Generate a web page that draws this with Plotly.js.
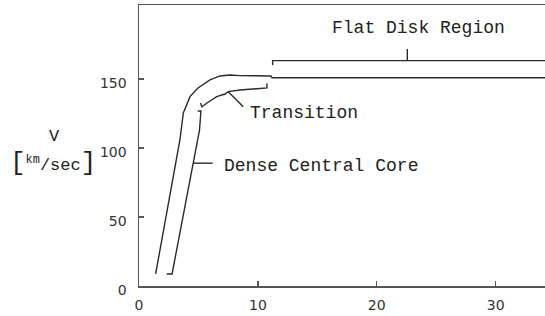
<!DOCTYPE html>
<html>
<head>
<meta charset="utf-8">
<script src="https://cdn.plot.ly/plotly-3.0.1.min.js"></script>
<style>html,body{margin:0;padding:0;background:#fff;}#chart{width:545px;height:316px;}</style>
</head>
<body>
<div id="chart"></div>
<script>
// Rotation curve (outer line)
const curveR = [1.40, 3.44, 3.73, 4.29, 4.96, 5.97, 6.81, 7.65, 8.49, 11.10, 11.19, 34.5];
const curveV = [8.7, 105.8, 125.4, 137.2, 143.5, 149.3, 152.2, 152.9, 152.4, 152.2, 150.9, 150.9];

// Dense central core bracket
const coreR = [2.33, 2.78, 5.09, 5.21, 4.94];
const coreV = [8.7, 8.7, 113.0, 126.8, 126.8];
const corePtrR = [4.57, 6.19];
const corePtrV = [89.0, 89.0];

// Transition bracket
const transR = [5.17, 5.30, 5.69, 6.53, 7.23, 7.51, 8.49, 10.76, 10.76];
const transV = [132.6, 129.9, 132.4, 137.2, 139.1, 140.8, 142.0, 143.5, 146.7];
const transPtrR = [7.51, 8.77];
const transPtrV = [140.8, 129.9];

// Flat disk bracket
const diskR = [11.24, 11.24, 34.5];
const diskV = [160.1, 163.3, 163.3];
const diskTickR = [22.57, 22.57];
const diskTickV = [163.3, 171.7];

// Labels
const labelText = ["Flat Disk Region", "Transition", "Dense Central Core"];
const labelR = [23.55, 9.17, 6.96];
const labelV = [187.2, 125.5, 86.6];
const labelAnchor = ["center", "left", "left"];

// Axis ticks
const xTicks = [0, 10, 20, 30];
const yTicks = [0, 50, 100, 150];

const lineStyle = {color: '#2a2a2a', width: 1.4};
function seg(x, y) {
  return {x: x, y: y, type: 'scatter', mode: 'lines', line: lineStyle, hoverinfo: 'skip', showlegend: false};
}

const data = [
  seg(curveR, curveV),
  seg(coreR, coreV),
  seg(corePtrR, corePtrV),
  seg(transR, transV),
  seg(transPtrR, transPtrV),
  seg(diskR, diskV),
  seg(diskTickR, diskTickV)
];

const textFont = {family: 'Liberation Mono, Courier New, monospace', size: 18, color: '#222'};
const annotations = labelText.map((t, i) => ({
  x: labelR[i], y: labelV[i], xref: 'x', yref: 'y', text: t, showarrow: false,
  xanchor: labelAnchor[i], yanchor: 'middle', font: textFont
}));
annotations.push({
  xref: 'paper', yref: 'paper', x: (54 - 139) / 406, y: (286 - 136) / 281,
  text: 'V', showarrow: false, xanchor: 'center', yanchor: 'middle',
  font: {family: 'Liberation Mono, monospace', size: 17, color: '#222'}
});
annotations.push({
  xref: 'paper', yref: 'paper', x: (53 - 139) / 406, y: (286 - 163) / 281,
  text: '<span style="font-size:26px">[</span><sup>km</sup>/sec<span style="font-size:26px">]</span>',
  showarrow: false, xanchor: 'center', yanchor: 'middle',
  font: {family: 'Liberation Mono, monospace', size: 17, color: '#222'}
});

const tickFont = {family: 'DejaVu Sans, sans-serif', size: 14, color: '#333'};
const layout = {
  width: 545, height: 316,
  margin: {l: 139, r: 0, t: 5, b: 30, pad: 0},
  paper_bgcolor: '#fff', plot_bgcolor: '#fff',
  showlegend: false,
  xaxis: {
    range: [0, 34.15], tickvals: xTicks, ticktext: xTicks.map(String),
    ticks: 'inside', ticklen: 5, tickwidth: 1.3, tickcolor: '#555',
    showline: true, linecolor: '#555', linewidth: 1.5, mirror: true,
    showgrid: false, zeroline: false, tickfont: tickFont, ticklabelstandoff: 6
  },
  yaxis: {
    range: [0, 203.6], tickvals: yTicks, ticktext: yTicks.map(String),
    ticks: 'inside', ticklen: 5, tickwidth: 1.3, tickcolor: '#555',
    showline: true, linecolor: '#555', linewidth: 1.5,
    showgrid: false, zeroline: false, tickfont: tickFont,
    ticklabelstandoff: 8, ticklabelshift: 4
  },
  annotations: annotations
};

Plotly.newPlot('chart', data, layout, {staticPlot: true, displayModeBar: false});
</script>
</body>
</html>
